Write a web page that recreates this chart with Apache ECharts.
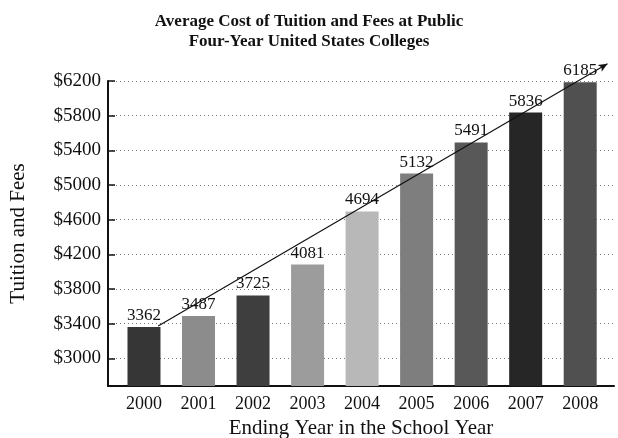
<!DOCTYPE html>
<html>
<head>
<meta charset="utf-8">
<script src="https://cdn.jsdelivr.net/npm/echarts@6/dist/echarts.min.js"></script>
<style>html,body{margin:0;padding:0;background:#fff}#c{width:618px;height:438px}</style>
</head>
<body>
<div id="c"></div>
<script>
const years = ['2000','2001','2002','2003','2004','2005','2006','2007','2008'];
const costs = [3362, 3487, 3725, 4081, 4694, 5132, 5491, 5836, 6185];
const yTicks = [3000, 3400, 3800, 4200, 4600, 5000, 5400, 5800, 6200];
const yearIndex = [0, 1, 2, 3, 4, 5, 6, 7, 8];
// trend line: [category position, value]
const trendStart = [0.26, 3373];
const trendEnd = [8.5, 6398];
const shades = ['#363636','#8c8c8c','#3e3e3e','#9c9c9c','#b8b8b8','#7e7e7e','#585858','#262626','#505050'];

const serif = '"Liberation Serif", "DejaVu Serif", serif';
const chart = echarts.init(document.getElementById('c'), null, {renderer: 'canvas'});
chart.setOption({
  animation: false,
  backgroundColor: '#fff',
  title: {
    text: 'Average Cost of Tuition and Fees at Public\nFour-Year United States Colleges',
    left: 'center',
    top: 7,
    padding: [5, 12, 5, 0],
    textStyle: {fontFamily: serif, fontWeight: 'bold', fontSize: 17, lineHeight: 20, color: '#111'}
  },
  grid: {left: 108, right: 4, top: 81, bottom: 52, containLabel: false, outerBoundsMode: 'none'},
  xAxis: {
    type: 'value',
    min: -0.66, max: 8.62,
    name: 'Ending Year in the School Year',
    nameLocation: 'middle',
    nameGap: 29,
    nameTextStyle: {fontFamily: serif, fontSize: 21, color: '#111'},
    axisLine: {show: true, onZero: false, lineStyle: {color: '#111', width: 2}},
    axisTick: {show: false},
    splitLine: {show: false},
    axisLabel: {
      customValues: yearIndex,
      formatter: v => years[v],
      fontFamily: serif, fontSize: 18, color: '#111', margin: 9
    }
  },
  yAxis: {
    type: 'value',
    min: 2680, max: 6200,
    name: 'Tuition and Fees',
    nameLocation: 'middle',
    nameGap: 79,
    nameRotate: 90,
    nameTextStyle: {fontFamily: serif, fontSize: 21, color: '#111'},
    axisLine: {show: true, onZero: false, lineStyle: {color: '#111', width: 2}},
    axisTick: {show: true, inside: true, length: 7, customValues: yTicks, lineStyle: {color: '#111', width: 1.5}},
    axisLabel: {customValues: yTicks, formatter: v => '$' + v, fontFamily: serif, fontSize: 19, color: '#111', margin: 7},
    splitLine: {show: true, lineStyle: {color: '#777', type: [1, 3], width: 1}}
  },
  series: [{
    type: 'bar',
    barWidth: 33,
    clip: true,
    z: 2,
    data: costs.map((v, i) => ({value: [yearIndex[i], v], itemStyle: {color: shades[i]}})),
    label: {
      show: true, position: 'top', distance: 3,
      formatter: p => String(p.value[1]),
      fontFamily: serif, fontSize: 17, color: '#111'
    }
  }, {
    type: 'line',
    clip: false,
    z: 5,
    data: [trendStart, trendEnd],
    symbol: (v, p) => p.dataIndex === 1 ? 'arrow' : 'none',
    symbolSize: [6, 9],
    symbolRotate: -60,
    itemStyle: {color: '#111'},
    lineStyle: {color: '#111', width: 1.2},
    label: {show: false}
  }]
});
</script>
</body>
</html>
